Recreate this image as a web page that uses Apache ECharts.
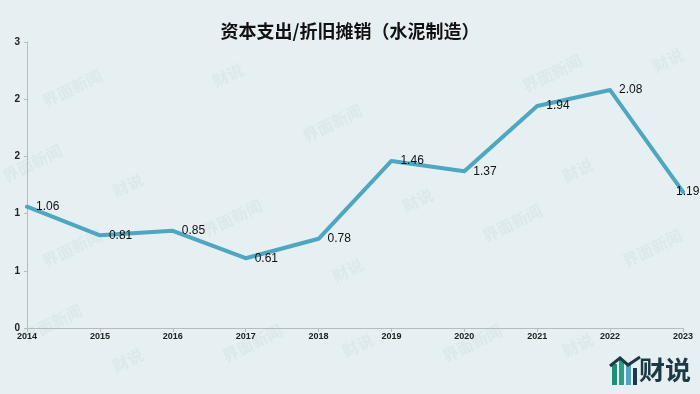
<!DOCTYPE html>
<html><head><meta charset="utf-8">
<script src="https://cdn.jsdelivr.net/npm/echarts@6/dist/echarts.min.js"></script>
<style>html,body{margin:0;padding:0;background:#e6eff1}#c{width:700px;height:394px}</style>
</head><body><div id="c"></div>
<script>
const categories = ['2014','2015','2016','2017','2018','2019','2020','2021','2022','2023'];
const values = [1.06, 0.81, 0.85, 0.61, 0.78, 1.46, 1.37, 1.94, 2.08, 1.19];
const titleText = '资本支出/折旧摊销（水泥制造）';

const wm = [];
const wmPos = [[40,95,'界面新闻'],[210,75,'财说'],[300,130,'界面新闻'],[520,80,'界面新闻'],[650,60,'财说'],
  [0,170,'界面新闻'],[110,185,'财说'],[400,200,'财说'],[560,170,'财说'],[200,225,'界面新闻'],[480,230,'界面新闻'],
  [40,255,'界面新闻'],[330,270,'财说'],[620,255,'界面新闻'],[20,330,'界面新闻'],[110,360,'财说'],[220,350,'界面新闻'],
  [340,345,'财说'],[440,350,'界面新闻'],[560,345,'财说']];
wmPos.forEach(p => wm.push({type:'text', x:p[0], y:p[1], rotation:Math.PI/7, silent:true, z:0,
  style:{text:p[2], fill:'rgba(120,140,150,0.07)', font:'bold 16px "Noto Sans CJK SC"'}}));

const seriesData = values.map((v, i) => i === values.length - 1
  ? {value:v, label:{position:[-6, 1], align:'left', verticalAlign:'middle'}} : v);

const chart = echarts.init(document.getElementById('c'));
chart.setOption({
  backgroundColor:'#e6eff1',
  animation:false,
  title:{text:titleText, left:'center', top:17,
    textStyle:{fontFamily:'"Noto Sans CJK SC"', fontSize:18, fontWeight:'bold', color:'#111'}},
  grid:{left:27, right:17, top:42, bottom:66},
  xAxis:{type:'category', data:categories, boundaryGap:false,
    axisLine:{lineStyle:{color:'#b5bcbf', width:1}},
    axisTick:{show:true, length:4, lineStyle:{color:'#b5bcbf'}},
    axisLabel:{fontSize:9, fontWeight:'bold', color:'#222', margin:4, fontFamily:'"Liberation Sans", Arial'}},
  yAxis:{type:'value', min:0, max:2.5, interval:0.5,
    axisLine:{show:true, lineStyle:{color:'#b5bcbf'}},
    axisTick:{show:true, length:3, lineStyle:{color:'#b5bcbf'}},
    splitLine:{show:false},
    axisLabel:{fontSize:10, fontWeight:'bold', color:'#222', margin:7, fontFamily:'"Liberation Sans", Arial',
      formatter:v => String(Math.round(v))}},
  series:[{type:'line', data:seriesData, symbol:'circle', symbolSize:2, showSymbol:true, showAllSymbol:true, z:3,
    itemStyle:{color:'#4ea6c0'},
    lineStyle:{color:'#4ea6c0', width:4, join:'round', cap:'round'},
    labelLayout:{hideOverlap:false},
    label:{show:true, position:'right', distance:8, fontSize:12, color:'#111', fontFamily:'"Liberation Sans", Arial',
      formatter:p => Number(p.value).toFixed(2)}}],
  graphic:wm.concat([
    {type:'rect', shape:{x:612,y:364,width:5,height:21}, style:{fill:'#1f8f7a'}, silent:true},
    {type:'rect', shape:{x:619,y:360,width:5,height:25}, style:{fill:'#2a9d86'}, silent:true},
    {type:'rect', shape:{x:626,y:364,width:5,height:21}, style:{fill:'#4ea6c0'}, silent:true},
    {type:'rect', shape:{x:633,y:368,width:4,height:17}, style:{fill:'#1d3a44'}, silent:true},
    {type:'polyline', shape:{points:[[610,366],[620,358],[628,365],[640,357]]}, style:{stroke:'#1d3a44', lineWidth:3, fill:null}, silent:true},
    {type:'text', x:639, y:357, style:{text:'财说', fill:'#1d3a44', font:'bold 26px "Noto Sans CJK SC"'}, silent:true}
  ])
});
</script></body></html>
